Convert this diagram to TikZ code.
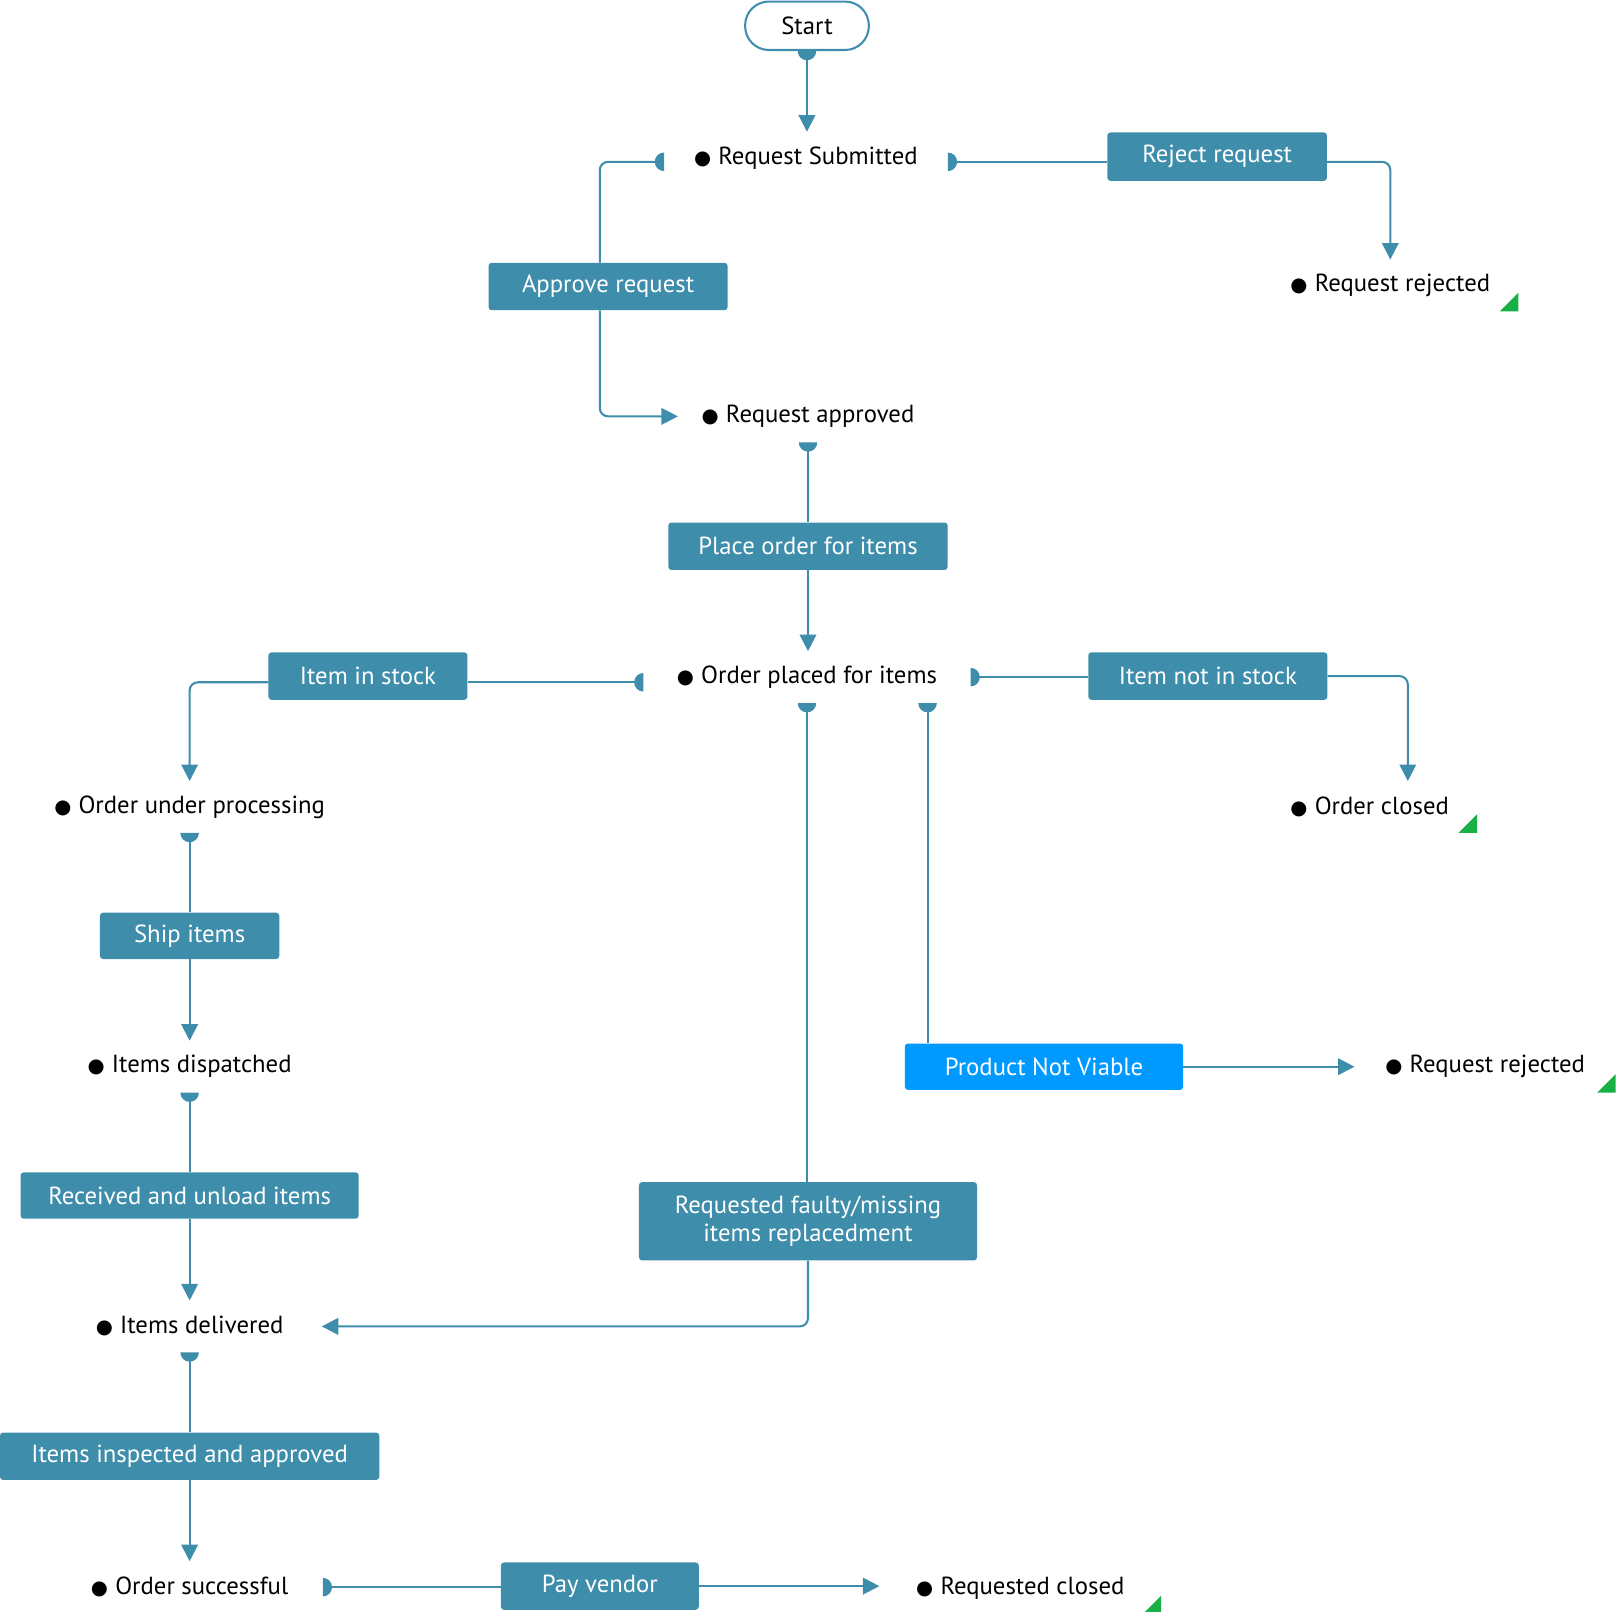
\documentclass[tikz,border=0pt]{standalone}
\usepackage{fontspec}
\setmainfont{PT Sans}
\newfontfamily\dotfont{DejaVu Sans}
\usetikzlibrary{arrows.meta}

\definecolor{flowteal}{RGB}{61,141,171}
\definecolor{viableblue}{RGB}{0,153,255}
\definecolor{finalgreen}{RGB}{24,176,68}

\newcommand{\flowfont}{\fontsize{24}{27}\selectfont}
\newcommand{\stdot}{{\dotfont\fontsize{19}{19}\selectfont ●}\hspace{7pt}}

% half disc sitting flat on the node border
\pgfdeclarearrow{
  name = HalfDot,
  parameters = {\the\pgfarrowlength},
  setup code = {
    \pgfarrowssettipend{\pgfarrowlength}
    \pgfarrowssetlineend{.5\pgfarrowlength}
    \pgfarrowssetbackend{0pt}
    \pgfarrowssavethe\pgfarrowlength
  },
  drawing code = {
    \pgfpathmoveto{\pgfqpoint{\pgfarrowlength}{\pgfarrowlength}}
    \pgfpatharc{90}{270}{\pgfarrowlength}
    \pgfpathclose
    \pgfusepathqfill
  },
  defaults = {length = 9pt}
}

\tikzset{
  stage/.style={inner xsep=0pt, inner ysep=0pt, minimum height=50pt, font=\flowfont, text=black},
  task/.style={fill=flowteal, text=white, rounded corners=3pt, minimum height=46pt, inner xsep=0pt, font=\flowfont},
  link/.style={draw=flowteal, line width=2pt, rounded corners=8pt, {HalfDot}-},
  feed/.style={draw=flowteal, line width=2pt, rounded corners=8pt, -{Triangle[length=16pt,width=16pt]}},
  flow/.style={draw=flowteal, line width=2pt, {HalfDot}-{Triangle[length=16pt,width=16pt]}}
}

\begin{document}
\begin{tikzpicture}[x=1pt,y=-1pt]
\useasboundingbox (0,0) rectangle (1568,1564);

% states
\node[draw=flowteal, line width=2pt, rounded corners=23pt, minimum width=120pt, minimum height=47pt, font=\flowfont] (start) at (783,25) {Start};
\node[stage, minimum width=275pt] (submitted) at (782,153) {\stdot Request Submitted};
\node[stage, minimum width=248pt] (rejA) at (1349,277) {\stdot Request rejected};
\node[stage, minimum width=252pt] (approved) at (784,404) {\stdot Request approved};
\node[stage, minimum width=317pt] (placed) at (783,657) {\stdot Order placed for items};
\node[stage, minimum width=321pt] (processing) at (184,783) {\stdot Order under processing};
\node[stage, minimum width=208pt] (closedA) at (1329,783) {\stdot Order closed};
\node[stage, minimum width=256pt] (dispatched) at (184,1035) {\stdot Items dispatched};
\node[stage, minimum width=253pt] (rejB) at (1441,1035) {\stdot Request rejected};
\node[stage, minimum width=256pt] (delivered) at (184,1287) {\stdot Items delivered};
\node[stage, minimum width=258pt] (successful) at (184,1540) {\stdot Order successful};
\node[stage, minimum width=273pt] (closedB) at (990,1541) {\stdot Requested closed};

% actions
\node[task, minimum width=232pt] (approve) at (590,278) {Approve request};
\node[task, minimum width=213pt, minimum height=47pt] (reject) at (1181,152) {Reject request};
\node[task, minimum width=271pt] (place) at (784,530) {Place order for items};
\node[task, minimum width=193pt] (instock) at (357,656) {Item in stock};
\node[task, minimum width=232pt] (notinstock) at (1172,656) {Item not in stock};
\node[task, minimum width=174pt, minimum height=45pt] (ship) at (184,908) {Ship items};
\node[task, minimum width=328pt, minimum height=45pt] (received) at (184,1160) {Received and unload items};
\node[task, minimum width=328pt, minimum height=76pt, align=center] (faulty) at (784,1185) {Requested faulty/missing\\items replacedment};
\node[task, fill=viableblue, minimum width=270pt, minimum height=45pt] (notviable) at (1013,1035) {Product Not Viable};
\node[task, minimum width=368pt] (inspected) at (184,1413) {Items inspected and approved};
\node[task, minimum width=192pt] (pay) at (582,1539) {Pay vendor};

% connectors
\draw[flow] (start.south) -- (start.south |- submitted.north);
\draw[link] ([yshift=-4pt]submitted.west) -| ([xshift=-8pt]approve.north);
\draw[feed] ([xshift=-8pt]approve.south) |- (approved.west);
\draw[link] ([yshift=-4pt]submitted.east) -- ([yshift=-4pt]submitted.east -| reject.west);
\draw[feed] ([yshift=-5pt]reject.east) -| (rejA.north);
\draw[link] (approved.south) -- (place.north);
\draw[feed] (place.south) -- (place.south |- placed.north);
\draw[link] ([yshift=-5pt]placed.west) -- ([yshift=-5pt]placed.west -| instock.east);
\draw[feed] ([yshift=-6pt]instock.west) -| (processing.north);
\draw[link] (placed.east) -- (placed.east -| notinstock.west);
\draw[feed] (notinstock.east) -| ([xshift=37pt]closedA.north);
\draw[link] (placed.south) -- (placed.south |- faulty.north);
\draw[feed] (faulty.south) |- (delivered.east);
\draw[link] ([xshift=117pt]placed.south) -- ([xshift=117pt]placed.south |- notviable.north);
\draw[feed] (notviable.east) -- (rejB.west);
\foreach \a/\b in {processing/ship, dispatched/received, delivered/inspected}
  \draw[link] (\a.south) -- (\b.north);
\foreach \a/\b in {ship/dispatched, received/delivered, inspected/successful}
  \draw[feed] (\a.south) -- (\b.north);
\draw[link] (successful.east) -- (successful.east -| pay.west);
\draw[feed] (pay.east) -- (pay.east -| closedB.west);

% end marks
\foreach \s in {rejA, closedA, rejB, closedB}
  \fill[finalgreen] (\s.south east) -- ++(0,-18) -- ++(-18,18) -- cycle;
\end{tikzpicture}
\end{document}
